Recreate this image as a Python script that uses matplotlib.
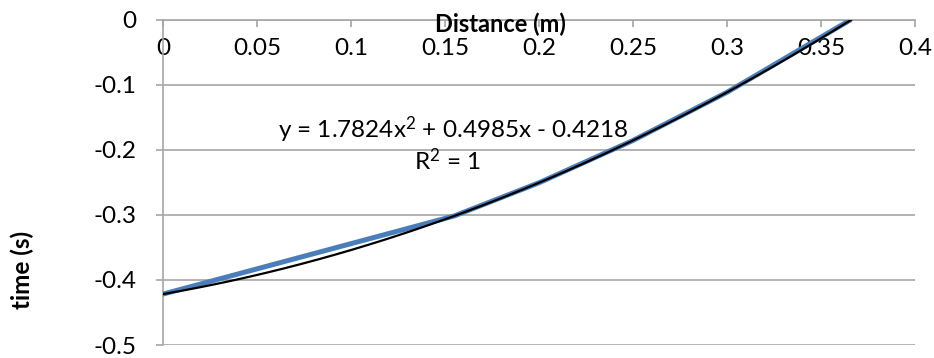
import matplotlib
matplotlib.use('Agg')
import numpy as np
import matplotlib.pyplot as plt

plt.rcParams['font.family'] = ['Lato', 'DejaVu Sans']
plt.rcParams['mathtext.fontset'] = 'custom'
plt.rcParams['mathtext.rm'] = 'Lato'
plt.rcParams['mathtext.it'] = 'Lato'

# measured data (distance in m, time in s)
distance = [0.0, 0.155, 0.2, 0.25, 0.3, 0.366]
time_s = [-0.4218, -0.3017, -0.2508, -0.1858, -0.1118, 0.0]

# polynomial trendline as reported (a, b, c)
trend_coeffs = [1.7824, 0.4985, -0.4218]
eq_text = r'y = 1.7824x$^\mathregular{2}$ + 0.4985x - 0.4218'
r2_text = r'R$^\mathregular{2}$ = 1'

xticks = [0, 0.05, 0.1, 0.15, 0.2, 0.25, 0.3, 0.35, 0.4]
yticks = [0, -0.1, -0.2, -0.3, -0.4, -0.5]

fig = plt.figure(figsize=(9.34, 3.58), dpi=100)
ax = fig.add_axes([163/934, 1-345/358, (915-163)/934, (345-19.5)/358])

grey = '#a6a6a6'
ax.plot(distance, time_s, color='#4a7ebb', lw=3.6, solid_capstyle='butt', zorder=3)
xs = np.linspace(distance[0], distance[-1], 200)
ax.plot(xs, np.polyval(trend_coeffs, xs), color='black', lw=1.6, zorder=4)

ax.set_xlim(0, 0.4)
ax.set_ylim(-0.5, 0)
ax.set_xticks(xticks)
ax.set_xticklabels([f'{v:g}' for v in xticks])
ax.set_yticks(yticks)
ax.set_yticklabels([f'{v:g}' for v in yticks])

ax.spines['top'].set_visible(False)
ax.spines['right'].set_visible(False)
ax.spines['bottom'].set_position(('data', 0))
for s in ['bottom', 'left']:
    ax.spines[s].set_color(grey)
    ax.spines[s].set_linewidth(1.2)
ax.yaxis.grid(True, color=grey, lw=1.2)
ax.set_axisbelow(True)

ax.tick_params(axis='x', direction='out', length=5, width=1.2, color=grey,
               labelsize=17.5, pad=8)
ax.tick_params(axis='y', direction='out', length=5, width=1.2, color=grey,
               labelsize=17.5, pad=14)

fig.text(500/934, 1-24/358, 'Distance (m)', ha='center', va='center',
         fontsize=17, fontweight='bold')
fig.text(22/934, 1-270/358, 'time (s)', ha='center', va='center',
         rotation=90, fontsize=17.5, fontweight='bold')

fig.text(453/934, 1-130/358, eq_text, ha='center', va='center', fontsize=17.5)
fig.text(447/934, 1-161/358, r2_text, ha='center', va='center', fontsize=17.5)

fig.savefig('out.png', dpi=100)
